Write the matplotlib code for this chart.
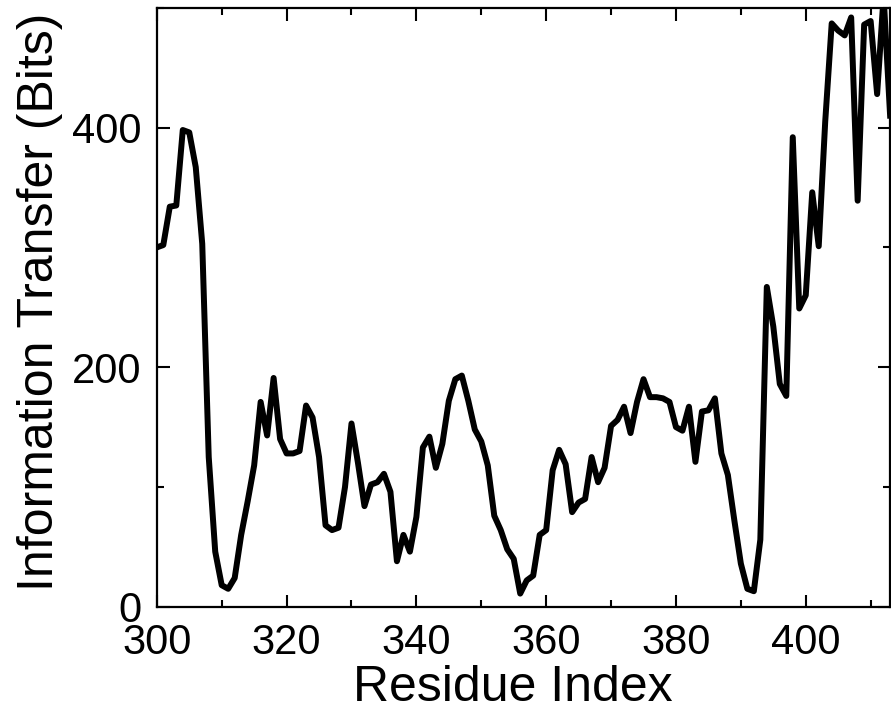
import matplotlib
matplotlib.use("Agg")
import matplotlib.pyplot as plt
from matplotlib.ticker import MultipleLocator

# Индексы остатков и перенос информации (бит)
residues = list(range(300, 414))
info_bits = [
    300, 302, 334, 335, 398, 396, 367, 303, 125, 46,   # 300-309
    18, 15, 24, 60, 88, 118, 171, 143, 191, 140,       # 310-319
    128, 128, 130, 168, 158, 125, 68, 64, 66, 100,     # 320-329
    153, 120, 84, 102, 104, 111, 96, 38, 60, 46,       # 330-339
    75, 133, 142, 116, 136, 172, 190, 193, 172, 148,   # 340-349
    138, 118, 76, 64, 48, 40, 11, 22, 26, 60,          # 350-359
    64, 114, 131, 119, 79, 87, 90, 125, 104, 116,      # 360-369
    151, 156, 167, 145, 171, 190, 175, 175, 174, 171,  # 370-379
    150, 147, 167, 121, 163, 164, 174, 128, 110, 72,   # 380-389
    36, 15, 13, 56, 267, 234, 186, 176, 392, 249,      # 390-399
    260, 346, 301, 405, 487, 481, 477, 492, 339, 486,  # 400-409
    489, 428, 510, 410,                                # 410-413
]

x_ticks = [300, 320, 340, 360, 380, 400]
y_ticks = [0, 200, 400]


def main():
    plt.rcParams['font.family'] = ['Liberation Sans', 'DejaVu Sans']

    fig = plt.figure(figsize=(8.91, 7.13), dpi=100)
    ax = fig.add_axes([0.176, 0.149, 0.823, 0.840])

    ax.plot(residues, info_bits, color="black", linewidth=4.3)

    ax.set_xlim(300, 413)
    ax.set_ylim(0, 500)
    ax.set_xticks(x_ticks)
    ax.set_yticks(y_ticks)
    ax.xaxis.set_minor_locator(MultipleLocator(10))
    ax.yaxis.set_minor_locator(MultipleLocator(100))

    ax.tick_params(which="both", direction="in", top=True, right=True,
                   width=1.5, labelsize=30)
    ax.tick_params(axis="x", which="major", pad=12)
    ax.tick_params(axis="y", which="major", pad=11)
    ax.tick_params(which="major", length=9)
    ax.tick_params(which="minor", length=5)
    for s in ax.spines.values():
        s.set_linewidth(1.6)

    ax.set_xlabel("Residue Index", fontsize=36, va="top")
    ax.xaxis.set_label_coords(0.486, -0.098)
    ax.set_ylabel("Information Transfer (Bits)", fontsize=36)
    ax.yaxis.set_label_coords(-0.128, 0.509)

    fig.savefig("out.png", dpi=100)


if __name__ == "__main__":
    main()
